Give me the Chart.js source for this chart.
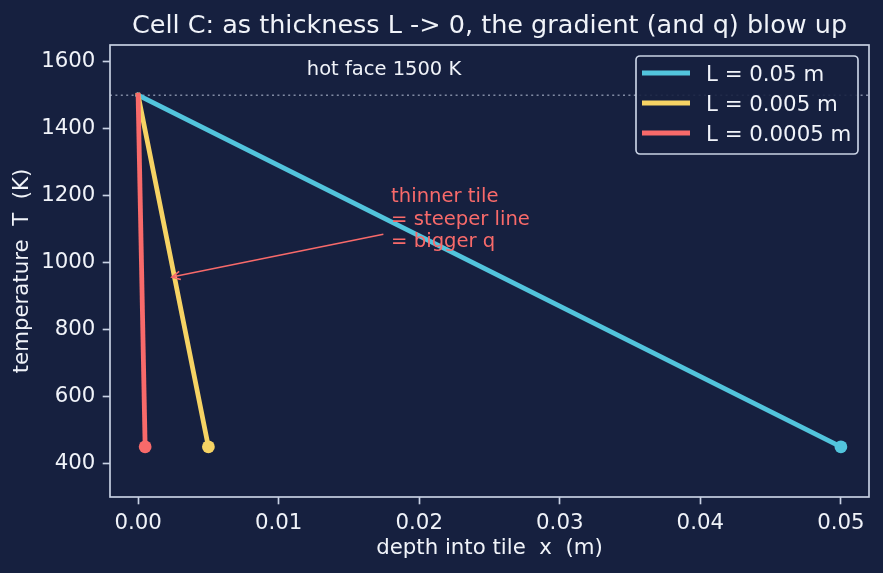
<!DOCTYPE html>
<html><head><meta charset="utf-8">
<script src="https://cdn.jsdelivr.net/npm/chart.js@4.4.1/dist/chart.umd.min.js"></script>
<style>html,body{margin:0;padding:0;background:#16203f;}canvas{display:block;}</style>
</head><body>
<canvas id="c" width="883" height="573"></canvas>
<script>
// ---- data ----
const seriesLabels = ['L = 0.05 m', 'L = 0.005 m', 'L = 0.0005 m'];
const depthL1 = [0, 0.05];
const tempL1 = [1500, 450];
const depthL2 = [0, 0.005];
const tempL2 = [1500, 450];
const depthL3 = [0, 0.0005];
const tempL3 = [1500, 450];
const hotFaceT = 1500;
const xTicks = [0, 0.01, 0.02, 0.03, 0.04, 0.05];
const yTicks = [400, 600, 800, 1000, 1200, 1400, 1600];
const xRange = [-0.002, 0.052];
const yRange = [300, 1650];
const titleText = 'Cell C: as thickness L -> 0, the gradient (and q) blow up';
const xLabel = 'depth into tile  x  (m)';
const yLabel = 'temperature  T  (K)';
const hotFaceLabel = 'hot face 1500 K';
const hotFaceLabelPos = [0.012, 1560];
const noteLines = ['thinner tile', '= steeper line', '= bigger q'];
const notePos = [0.018, 1180];
const arrowFrom = [0.01745, 1085];
const arrowTo = [0.0024, 957];

// ---- style ----
const BG = '#16203f';
const FG = '#f0f3f9';
const SPINE = '#c9d2e4';
const COLORS = ['#52c4dc', '#f6d364', '#f86a6a'];
const FONT = "'DejaVu Sans', sans-serif";
const LW = 4.8;
const FS = 21.3;

function pts(xs, ys) { return xs.map((x, i) => ({x: x, y: ys[i]})); }
const seriesData = [pts(depthL1, tempL1), pts(depthL2, tempL2), pts(depthL3, tempL3)];

const datasets = seriesData.map((d, i) => ({
  label: seriesLabels[i],
  data: d,
  borderColor: COLORS[i],
  backgroundColor: COLORS[i],
  borderWidth: LW,
  borderCapStyle: 'square',
  pointRadius: [0, 6.4],
  pointBorderWidth: 0,
  pointBackgroundColor: COLORS[i],
  pointHoverRadius: 0,
  tension: 0,
  fill: false,
  order: 3 - i
}));

const deco = {
  id: 'deco',
  beforeDraw(chart) {
    const c = chart.ctx;
    c.save();
    c.fillStyle = BG;
    c.fillRect(0, 0, chart.width, chart.height);
    c.restore();
  },
  beforeDatasetsDraw(chart) {
    const c = chart.ctx, a = chart.chartArea, ys = chart.scales.y;
    const y = ys.getPixelForValue(hotFaceT);
    c.save();
    c.strokeStyle = 'rgba(200,210,230,0.6)';
    c.lineWidth = 1.5;
    c.setLineDash([2, 3.4]);
    c.beginPath(); c.moveTo(a.left, y); c.lineTo(a.right, y); c.stroke();
    c.restore();
  },
  afterDraw(chart) {
    const c = chart.ctx, a = chart.chartArea, xs = chart.scales.x, ys = chart.scales.y;
    c.save();
    // spines
    c.strokeStyle = SPINE; c.lineWidth = 1.67;
    c.strokeRect(a.left, a.top, a.right - a.left, a.bottom - a.top);
    // title
    c.fillStyle = FG;
    c.font = '25.5px ' + FONT;
    c.textAlign = 'center'; c.textBaseline = 'alphabetic';
    c.fillText(titleText, (a.left + a.right) / 2, 33);
    // hot face label
    c.font = '19.5px ' + FONT;
    c.textAlign = 'left';
    c.fillText(hotFaceLabel, xs.getPixelForValue(hotFaceLabelPos[0]), ys.getPixelForValue(hotFaceLabelPos[1]));
    // annotation
    c.fillStyle = COLORS[2];
    c.font = '19.6px ' + FONT;
    const nx = xs.getPixelForValue(notePos[0]), ny = ys.getPixelForValue(notePos[1]);
    noteLines.forEach((t, i) => c.fillText(t, nx, ny + i * 22.3));
    const x0 = xs.getPixelForValue(arrowFrom[0]), y0 = ys.getPixelForValue(arrowFrom[1]);
    const x1 = xs.getPixelForValue(arrowTo[0]), y1 = ys.getPixelForValue(arrowTo[1]);
    c.strokeStyle = COLORS[2]; c.lineWidth = 1.6;
    c.beginPath(); c.moveTo(x0, y0); c.lineTo(x1, y1); c.stroke();
    const ang = Math.atan2(y0 - y1, x0 - x1);
    const hl = 8.3, hw = 4.2;
    const bx = x1 + hl * Math.cos(ang), by = y1 + hl * Math.sin(ang);
    c.beginPath();
    c.moveTo(bx - hw * Math.sin(ang), by + hw * Math.cos(ang));
    c.lineTo(x1, y1);
    c.lineTo(bx + hw * Math.sin(ang), by - hw * Math.cos(ang));
    c.stroke();
    // legend
    const lx = a.right - 11 - 222, ly = a.top + 11, lw = 222, lh = 98;
    c.fillStyle = 'rgba(22,32,63,0.9)';
    c.strokeStyle = SPINE; c.lineWidth = 1.67;
    c.beginPath(); c.roundRect(lx, ly, lw, lh, 4); c.fill(); c.stroke();
    c.font = FS + 'px ' + FONT;
    c.textAlign = 'left'; c.textBaseline = 'alphabetic';
    chart.data.datasets.forEach((ds, i) => {
      const ry = ly + 17 + i * 30;
      c.strokeStyle = ds.borderColor; c.lineWidth = LW; c.lineCap = 'butt';
      c.beginPath(); c.moveTo(lx + 6, ry); c.lineTo(lx + 54, ry); c.stroke();
      c.fillStyle = FG;
      c.fillText(ds.label, lx + 70, ry + 8.3);
    });
    c.restore();
  }
};

new Chart(document.getElementById('c'), {
  type: 'line',
  data: { datasets: datasets },
  options: {
    responsive: false, animation: false, devicePixelRatio: 1, events: [],
    layout: { padding: { left: 0, right: 14, top: 45, bottom: 0 } },
    plugins: { legend: { display: false }, title: { display: false }, tooltip: { enabled: false } },
    scales: {
      x: {
        type: 'linear', min: xRange[0], max: xRange[1],
        afterBuildTicks(s) { s.ticks = xTicks.map(v => ({ value: v })); },
        afterFit(s) { s.height = 76; },
        grid: { drawOnChartArea: false, drawTicks: true, tickLength: 7.3, tickWidth: 1.67, tickColor: SPINE },
        border: { display: false },
        ticks: { color: FG, font: { family: FONT, size: FS }, padding: 6, maxRotation: 0, autoSkip: false,
                 callback: v => Number(v).toFixed(2) },
        title: { display: true, text: xLabel, color: FG, font: { family: FONT, size: FS }, padding: { top: 0, bottom: 11.5 } }
      },
      y: {
        type: 'linear', min: yRange[0], max: yRange[1],
        afterBuildTicks(s) { s.ticks = yTicks.map(v => ({ value: v })); },
        afterFit(s) { s.width = 110; },
        grid: { drawOnChartArea: false, drawTicks: true, tickLength: 7.3, tickWidth: 1.67, tickColor: SPINE },
        border: { display: false },
        ticks: { color: FG, font: { family: FONT, size: FS }, padding: 7.3, autoSkip: false,
                 callback: v => String(v) },
        title: { display: true, text: yLabel, color: FG, font: { family: FONT, size: FS }, padding: { top: 9.5, bottom: 0 } }
      }
    }
  },
  plugins: [deco]
});
</script>
</body></html>
